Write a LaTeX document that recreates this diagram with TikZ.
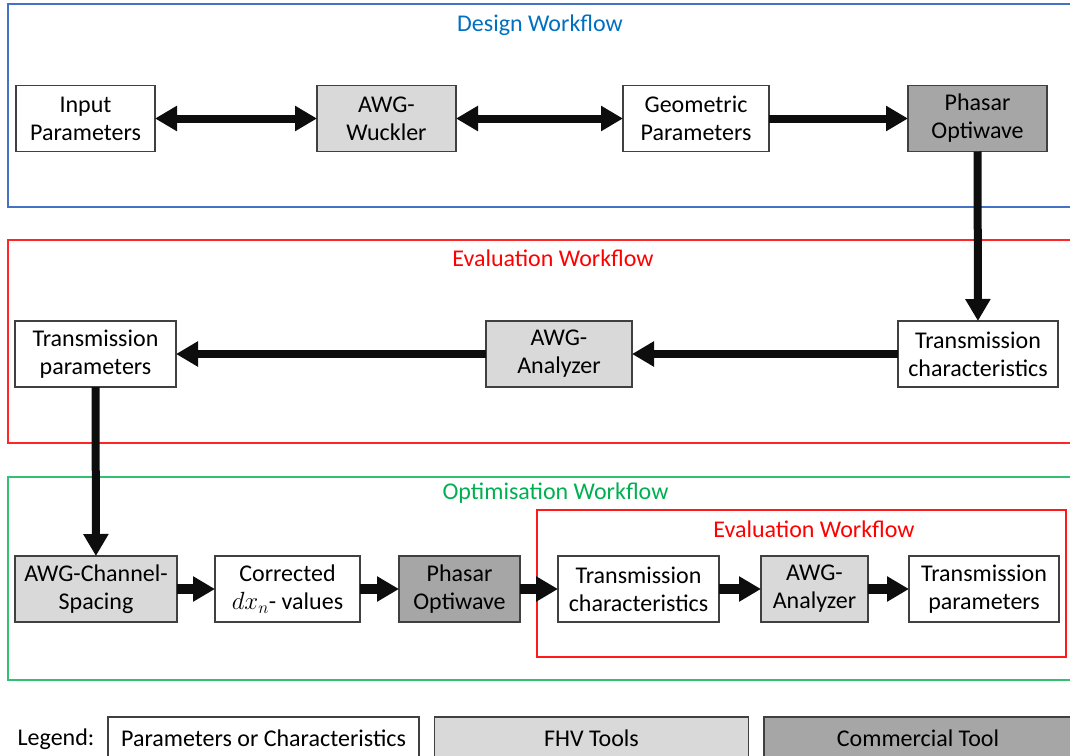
\documentclass[tikz,border=0pt]{standalone}
\usepackage{fontspec}
\setmainfont{Carlito}
\usetikzlibrary{arrows.meta, positioning}

\definecolor{toolgray}{RGB}{217,217,217}
\definecolor{comgray}{RGB}{166,166,166}
\definecolor{designblue}{RGB}{0,112,192}
\definecolor{frameblue}{RGB}{68,114,196}
\definecolor{evalred}{RGB}{255,0,0}
\definecolor{optgreen}{RGB}{0,176,80}
\definecolor{arrowblack}{RGB}{13,13,13}

\begin{document}
\begin{tikzpicture}[
    x=1pt, y=-1pt,
    box/.style={draw=black!75, line width=1.2pt, align=center, inner sep=0pt,
      outer sep=0pt, font=\fontsize{24}{28}\selectfont, minimum height=66pt},
    par/.style={box, fill=white},
    fhv/.style={box, fill=toolgray},
    com/.style={box, fill=comgray},
    flow/.style={-{Triangle[length=22pt, width=24pt]}, line width=8pt, draw=arrowblack},
    biflow/.style={flow, {Triangle[length=22pt, width=24pt]}-{Triangle[length=22pt, width=24pt]}},
    frame/.style={line width=1.5pt},
    lab/.style={anchor=base, font=\fontsize{24}{28}\selectfont},
    legbox/.style={draw=black!75, line width=1.2pt, inner sep=0pt,
      minimum height=42pt, font=\fontsize{24}{28}\selectfont}
  ]
    \useasboundingbox (0,0) rectangle (1070,755);
    \clip (0,0) rectangle (1070,755);

    % workflow frames
    \draw[frame, frameblue] (8,4) rectangle (1076,207);
    \draw[frame, evalred!85] (8,240) rectangle (1076,443);
    \draw[frame, optgreen!80] (8,477) rectangle (1076,680);
    \draw[frame, evalred!90] (537,510) rectangle (1066,657);
    \node[lab, text=designblue] (tdes) at (540,31) {Design Workflow};
    \node[lab, text=evalred] (teval) at (553,266) {Evaluation Workflow};
    \node[lab, text=optgreen] (topt) at (555.5,499) {Optimisation Workflow};
    \node[lab, text=evalred] (teval2) at (814,537) {Evaluation Workflow};

    % design row
    \node[par, minimum width=139pt] (inp) at (85.5,118.5) {Input\\Parameters};
    \node[fhv, minimum width=139pt, right=162pt of inp] (wuck) {AWG-\\Wuckler};
    \node[par, minimum width=146pt, right=167pt of wuck] (geo) {Geometric\\Parameters};
    \node[com, minimum width=139pt, right=139pt of geo] (phas1) {Phasar\\Optiwave};

    % evaluation row
    \node[par, minimum width=160pt] (tc1) at (978,354) {Transmission\\characteristics};
    \node[fhv, minimum width=146pt, left=266pt of tc1] (an1) {AWG-\\Analyzer};
    \node[par, minimum width=161pt, left=310pt of an1] (tp1) {Transmission\\parameters};

    % optimisation row
    \node[fhv, minimum width=162pt] (acs) at (96,589) {AWG-Channel-\\Spacing};
    \node[par, minimum width=145pt, right=38pt of acs] (corr) {Corrected\\$dx_n$- values};
    \node[com, minimum width=121pt, right=39pt of corr] (phas2) {Phasar\\Optiwave};
    \node[par, minimum width=161pt, right=38pt of phas2] (tc2) {Transmission\\characteristics};
    \node[fhv, minimum width=107pt, right=42pt of tc2] (an2) {AWG-\\Analyzer};
    \node[par, minimum width=150pt, right=41pt of an2] (tp2) {Transmission\\parameters};

    \draw[biflow] (inp) -- (wuck);
    \draw[biflow] (wuck) -- (geo);
    \draw[flow] (geo) -- (phas1);
    \draw[flow] (phas1) -- (tc1);
    \draw[flow] (tc1) -- (an1);
    \draw[flow] (an1) -- (tp1);
    \draw[flow] (tp1) -- (acs);
    \draw[flow, line width=10pt] (acs) -- (corr);
    \draw[flow, line width=10pt] (corr) -- (phas2);
    \draw[flow, line width=10pt] (phas2) -- (tc2);
    \draw[flow, line width=10pt] (tc2) -- (an2);
    \draw[flow, line width=10pt] (an2) -- (tp2);

    % legend
    \node[lab] (leg) at (56,745) {Legend:};
    \node[legbox, fill=white, minimum width=311pt] (lpar) at (263.5,738) {Parameters or Characteristics};
    \node[legbox, fill=toolgray, minimum width=314pt] (lfhv) at (591.5,738) {FHV Tools};
    \node[legbox, fill=comgray, minimum width=308pt] (lcom) at (918,738) {Commercial Tool};
  \end{tikzpicture}
\end{document}
